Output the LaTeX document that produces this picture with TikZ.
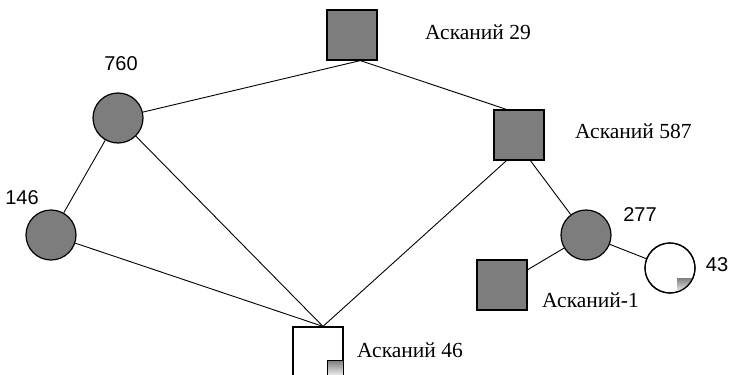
\documentclass[tikz,border=0pt]{standalone}
\usepackage{fontspec}
\setmainfont{Liberation Serif}
\newfontfamily\numfont{Liberation Sans}
\usetikzlibrary{calc}
\definecolor{shade}{RGB}{125,125,125}
\tikzset{
    male/.style={draw, rectangle, minimum size=50pt, inner sep=0pt, line width=1.2pt},
    female/.style={draw, circle, minimum size=50pt, inner sep=0pt, line width=1.2pt},
    ill/.style={fill=shade},
    link/.style={line width=0.9pt},
    tag/.style={anchor=west, inner sep=0pt, font=\fontsize{21.5}{24}\selectfont},
    num/.style={inner sep=0pt, font=\numfont\fontsize{20}{22}\selectfont}
}

\begin{document}
\begin{tikzpicture}[x=1pt,y=-1pt]
    \clip (0,0) rectangle (729,375);

    % persons
    \node[male, ill] (a29) at (352,35) {};
    \node[male, ill] (a587) at (519,135) {};
    \node[male, ill] (a1) at (502,285) {};
    \node[male] (a46) at (318,352) {};
    \node[female, ill] (f760) at (118,118) {};
    \node[female, ill] (f146) at (51,235) {};
    \node[female, ill] (f277) at (586,235) {};
    \node[female] (f43) at (670,268) {};

    % partly shaded ones
    \begin{scope}
        \clip (f43.center) circle (25);
        \fill[shade] ($(f43.center)+(7,10)$) rectangle ($(f43.center)+(26,26)$);
    \end{scope}
    \draw[line width=1.2pt] (f43.center) circle (25);
    \filldraw[shade, draw=black, line width=1pt] ($(a46.south east)+(-16,-17)$) rectangle (a46.south east);

    % lines
    \draw[link] (a29.288) -- (f760);
    \draw[link] (a29.288) -- (a587.116);
    \draw[link] (f760) -- (f146);
    \draw[link] (f760) -- (a46.79);
    \draw[link] (f146) -- (a46.79);
    \draw[link] (a587.244) -- (a46.79);
    \draw[link] (a587.294) -- (f277);
    \draw[link] (f277) -- (f43);
    \draw[link] (f277) -- (a1);

    % Labels
    \node[tag] (t29) at (425,32) {Асканий 29};
    \node[tag] (t587) at (575,131) {Асканий 587};
    \node[tag] (t1) at (542,300) {Асканий-1};
    \node[tag] (t46) at (357,350) {Асканий 46};
    \node[num] (n760) at (121,64) {760};
    \node[num] (n146) at (22,198) {146};
    \node[num] (n277) at (640,215) {277};
    \node[num] (n43) at (717,265) {43};
\end{tikzpicture}
\end{document}
